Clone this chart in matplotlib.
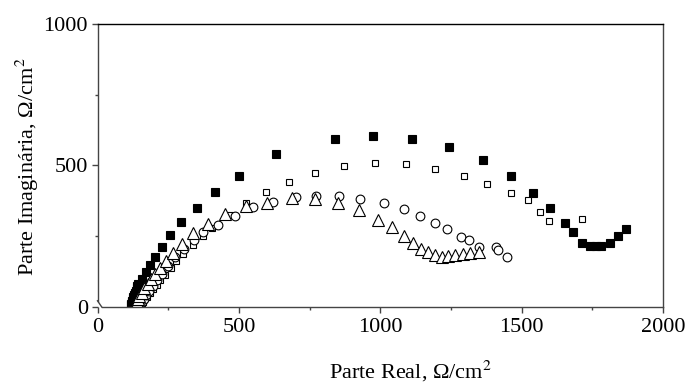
import matplotlib
matplotlib.use("Agg")
import matplotlib.pyplot as plt
from matplotlib.ticker import MultipleLocator

plt.rcParams['font.family'] = ['Liberation Serif', 'DejaVu Serif']
plt.rcParams['mathtext.fontset'] = 'stix'
plt.rcParams['font.size'] = 16

# impedance spectra (Nyquist): real part vs imaginary part, ohm/cm^2
fs_x = [117, 119, 121, 123, 125, 127, 129, 132, 135, 138, 141, 144, 156, 171, 186, 203,
        227, 257, 297, 351, 415, 501, 631, 840, 975, 1112, 1244, 1363, 1462, 1541, 1602,
        1654, 1680, 1713, 1743, 1762, 1781, 1814, 1842, 1868]
fs_y = [8, 12, 17, 22, 28, 35, 42, 50, 58, 66, 74, 81, 98, 123, 147, 176,
        211, 255, 300, 351, 408, 463, 542, 593, 606, 594, 564, 518, 463, 404, 349,
        297, 264, 225, 214, 217, 214, 227, 251, 277]

os_x = [154, 156, 160, 165, 174, 186, 197, 209, 221, 239, 259, 278, 303, 339, 374, 404,
        470, 524, 596, 676, 770, 872, 981, 1091, 1193, 1296, 1379, 1462, 1521, 1564,
        1596, 1715]
os_y = [4, 11, 19, 27, 36, 48, 63, 78, 95, 113, 137, 161, 187, 219, 250, 280,
        325, 366, 405, 442, 475, 499, 508, 507, 489, 463, 436, 403, 377, 337,
        305, 312]

ci_x = [150, 156, 163, 172, 182, 195, 210, 228, 250, 275, 305, 340, 374, 425, 486, 550,
        621, 702, 772, 855, 930, 1013, 1083, 1140, 1194, 1235, 1285, 1313, 1349, 1410,
        1417, 1448]
ci_y = [8, 18, 30, 42, 57, 75, 95, 118, 145, 175, 205, 235, 266, 290, 323, 352,
        370, 390, 392, 392, 381, 366, 345, 323, 296, 277, 249, 237, 213, 211,
        201, 178]

tr_x = [135, 138, 142, 148, 156, 165, 177, 189, 203, 221, 242, 268, 298, 339, 392, 452,
        524, 598, 688, 769, 851, 925, 993, 1042, 1083, 1116, 1144, 1169, 1193, 1217,
        1238, 1264, 1291, 1319, 1349]
tr_y = [10, 18, 27, 39, 51, 66, 81, 99, 117, 138, 163, 192, 224, 260, 295, 327,
        357, 366, 384, 381, 366, 343, 307, 281, 251, 225, 205, 193, 184, 178,
        181, 183, 186, 192, 196]

W, H = 687, 383
fig = plt.figure(figsize=(W / 100, H / 100), dpi=100)
ax = fig.add_axes([97.5 / W, 1 - 307 / H, (663 - 97.5) / W, (307 - 24) / H])

ax.plot(fs_x, fs_y, 's', ms=5.5, mfc='black', mec='black', mew=0.8, ls='none')
ax.plot(os_x, os_y, 's', ms=5.0, mfc='white', mec='black', mew=0.8, ls='none')
ax.plot(ci_x, ci_y, 'o', ms=6.3, mfc='white', mec='black', mew=0.8, ls='none')
ax.plot(tr_x, tr_y, '^', ms=9.3, mfc='white', mec='black', mew=0.8, ls='none')

ax.set_xlim(0, 2000)
ax.set_ylim(0, 1000)
ax.xaxis.set_major_locator(MultipleLocator(500))
ax.xaxis.set_minor_locator(MultipleLocator(250))
ax.yaxis.set_major_locator(MultipleLocator(500))
ax.yaxis.set_minor_locator(MultipleLocator(250))
ax.tick_params(which='both', direction='out', top=False, right=False, color='#444444')
ax.tick_params(which='major', length=4, width=1)
ax.tick_params(which='minor', length=2.5, width=1)
ax.tick_params(axis='x', pad=4)
ax.tick_params(axis='y', pad=3)

for side in ['left', 'right', 'bottom']:
    ax.spines[side].set_color('#444444')
    ax.spines[side].set_linewidth(1.0)
ax.spines['top'].set_color('black')
ax.spines['top'].set_linewidth(1.0)

# small break at the origin corner
ax.spines['left'].set_bounds(22, 1000)
ax.spines['bottom'].set_bounds(15, 2000)
ax.plot([0, 15], [22, 0], color='#444444', lw=1.0, clip_on=False)

fig.text(410.5 / W, 5 / H, 'Parte Real, Ω/cm$^2$', ha='center', va='baseline')
fig.text(27 / W, 1 - 166.5 / H, 'Parte Imaginária, Ω/cm$^2$', ha='center', va='center',
         rotation=90)

fig.savefig('out.png', dpi=100)
